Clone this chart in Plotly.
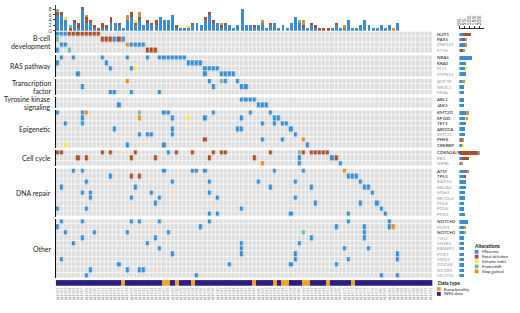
import numpy as np
import plotly.graph_objects as go

W, H = 520, 313
N_SAMPLES = 92

GROUP_NAMES = [["B-cell", "development"], ["RAS pathway"], ["Transcription", "factor"],
               ["Tyrosine kinase", "signaling"], ["Epigenetic"], ["Cell cycle"], ["DNA repair"], ["Other"]]
GROUP_GENES = [
    ["IKZF1", "PAX5", "ZNF521", "ETV6"],
    ["NRAS", "KRAS", "FLT3", "PTPN11"],
    ["ATF7IP", "NR3C1", "MGA"],
    ["ABL1", "JAK3"],
    ["KMT2D", "EP300", "TET2", "ARID1A", "KMT2C", "PHF6", "CREBBP"],
    ["CDKN2A/B", "RB1", "NIPBL"],
    ["ATM", "TP53", "RAD50", "BRCA2", "MSH2", "RECQL4", "POLE", "POLK", "PMS1"],
    ["NOTCH2", "PCM1", "NOTCH1", "TSC2", "SH2B3", "RANBP2", "PCNT", "MKX3", "DOCK8", "NCOR2", "MLLT10"],
]
HIGHLIGHTED = ["IKZF1", "PAX5", "NRAS", "KRAS", "ABL1", "JAK3", "KMT2D", "EP300", "TET2",
               "ARID1A", "PHF6", "CREBBP", "CDKN2A/B", "ATM", "TP53", "NOTCH2", "NOTCH1"]
SAMPLE_IDS = [f"ALL-{i + 1:03d}" for i in range(N_SAMPLES)]

# sample index lists per gene, one dict per alteration type
MISSENSE = {
    "IKZF1": [0, 1, 2], "PAX5": [14, 16], "ZNF521": [1, 2, 18, 19, 20, 21], "ETV6": [0],
    "NRAS": [1, 4, 11, 17, 22, 25, 26, 27, 28, 29, 30, 31], "KRAS": [0, 12, 32, 33, 34, 35],
    "FLT3": [13, 18, 36, 37, 38, 39], "PTPN11": [5, 36, 40, 41, 42, 43],
    "ATF7IP": [37, 41, 44], "NR3C1": [6, 38, 45, 46], "MGA": [13, 14, 18, 25],
    "ABL1": [45, 46, 47, 48], "JAK3": [15, 49, 50, 51],
    "KMT2D": [0, 6, 26, 27, 38, 47, 52], "EP300": [6, 28, 36, 45, 53, 54],
    "TET2": [2, 6, 50, 53, 55, 56], "ARID1A": [14, 28, 44, 45, 57],
    "KMT2C": [20, 22, 23, 28, 58], "PHF6": [50, 55], "CREBBP": [17, 26, 61],
    "CDKN2A/B": [27], "RB1": [59, 67], "NIPBL": [59, 69],
    "ATM": [4, 6, 26, 33, 34, 36, 53, 60], "TP53": [13, 71, 72, 73],
    "RAD50": [7, 28, 37, 49, 58, 74], "BRCA2": [1, 19, 52, 62, 75, 76],
    "MSH2": [6, 8, 23, 37, 77], "RECQL4": [8, 18, 25, 39, 58], "POLE": [24, 63, 74, 78],
    "POLK": [0, 7, 45, 79], "PMS1": [37, 39, 57, 71, 80],
    "NOTCH2": [1, 6, 18, 20, 25, 37, 71, 81], "PCM1": [0, 35, 68, 75, 81],
    "NOTCH1": [2, 9, 17, 27, 75], "TSC2": [6, 24, 62, 75], "SH2B3": [4, 22, 45, 59],
    "RANBP2": [25, 45, 70, 76], "PCNT": [28, 45, 58, 83], "MKX3": [1, 58, 71, 83],
    "DOCK8": [15, 42, 57, 68], "NCOR2": [8, 17, 20, 21], "MLLT10": [7, 34, 79, 83],
}
FOCAL_DELETION = {
    "IKZF1": [3, 4, 5, 6, 7, 8, 9, 10], "PAX5": [11, 12, 13, 15], "ETV6": [22, 23, 24],
    "PHF6": [36],
    "CDKN2A/B": [0, 1, 11, 13, 19, 29, 33, 38, 40, 41, 52, 60, 62, 63, 64, 65, 66],
    "RB1": [5, 7, 18, 24, 37, 48, 68], "TP53": [18, 20],
}
INFRAME_INDEL = {"FLT3": [19], "EP300": [32], "CREBBP": [2]}
FRAMESHIFT = {"PAX5": [0], "ETV6": [3], "ATF7IP": [40], "KMT2D": [20],
              "CDKN2A/B": [59], "NOTCH1": [60]}
STOP_GAINED = {"ZNF521": [17], "ATF7IP": [17], "KMT2D": [7], "EP300": [20], "PHF6": [60],
               "NIPBL": [50], "ATM": [70], "PCM1": [82]}
EUROCLONALITY = [16, 26, 27, 29, 33, 48, 53, 55, 56, 60, 61, 66, 72]

TYPE_NAMES = ["Missense", "Focal deletion", "Inframe indel", "Frameshift", "Stop gained"]
TYPE_DATA = [MISSENSE, FOCAL_DELETION, INFRAME_INDEL, FRAMESHIFT, STOP_GAINED]
TYPE_COLORS = ["#3a8dd0", "#a8502c", "#f2e64c", "#74b79c", "#ef8a22"]
EMPTY = "#dedede"
NAVY = "#2c1d82"
ORANGE = "#f3a024"

# ---------------------------------------------------------------- matrix
all_genes = [g for grp in GROUP_GENES for g in grp]
mat = {g: np.zeros(N_SAMPLES, dtype=int) for g in all_genes}
for code, d in enumerate(TYPE_DATA, start=1):
    for g, cols in d.items():
        mat[g][cols] = code

def px(x):
    return x / W

def py(y):
    return 1 - y / H

fig = go.Figure()
layout = dict(width=W, height=H, margin=dict(l=0, r=0, t=0, b=0),
              paper_bgcolor="white", plot_bgcolor="white", showlegend=False,
              barmode="stack", font=dict(family="Lato", color="#222"))

GRID_L, GRID_R = 53, 432
xdom = [px(GRID_L), px(GRID_R)]
xr = [-0.5, N_SAMPLES - 0.5]
layout["xaxis"] = dict(domain=xdom, range=xr, visible=False, anchor="y9")
layout["xaxis2"] = dict(domain=[px(459), px(484)], range=[0, 25], side="top",
                        anchor="free", position=py(28.5), tickvals=[0, 5, 10, 15, 20],
                        ticktext=["0%", "5%", "10%", "15%", "20%"], tickangle=-90,
                        ticks="outside", ticklen=2, tickwidth=0.7, tickcolor="#333",
                        showline=True, linecolor="#333", linewidth=0.7,
                        showgrid=False, zeroline=False,
                        tickfont=dict(size=5, color="#333"))

dscale = []
cols_all = [EMPTY] + TYPE_COLORS
for i, c in enumerate(cols_all):
    lo = max(0, (i - 0.5) / 5)
    hi = min(1, (i + 0.5) / 5)
    dscale += [[lo, c], [hi, c]]

TOP, PITCH, GAP = 31.8, 5.44, 2.2
LINE_H = 7.8
y0 = TOP
for k, genes in enumerate(GROUP_GENES, start=1):
    n = len(genes)
    y1 = y0 + n * PITCH
    yname = "yaxis" if k == 1 else f"yaxis{k}"
    yref = "y" if k == 1 else f"y{k}"
    layout[yname] = dict(domain=[py(y1), py(y0)], range=[n - 0.5, -0.5], anchor="x",
                         showline=True, linecolor="#111", linewidth=1.3,
                         showticklabels=False, ticks="", showgrid=False, zeroline=False)
    z = np.array([mat[g] for g in genes])
    fig.add_trace(go.Heatmap(z=z, x=list(range(N_SAMPLES)), y=list(range(n)),
                             colorscale=dscale, zmin=0, zmax=5, showscale=False,
                             xgap=0.7, ygap=0.7, xaxis="x", yaxis=yref, hoverinfo="skip"))
    # gene frequency bars
    for code, (tn, tc) in enumerate(zip(TYPE_NAMES, TYPE_COLORS), start=1):
        pct = [float(np.sum(mat[g] == code)) / N_SAMPLES * 100 for g in genes]
        fig.add_trace(go.Bar(x=pct, y=list(range(n)), orientation="h", marker_color=tc,
                             marker_line_width=0, width=0.62, xaxis="x2", yaxis=yref,
                             hoverinfo="skip"))
    # gene labels
    for i, g in enumerate(genes):
        fig.add_annotation(x=px(435), xref="paper", y=i, yref=yref, text=g,
                           showarrow=False, xanchor="left", yanchor="middle",
                           font=dict(size=4.5, color="#111" if g in HIGHLIGHTED else "#9a9a9a"))
    # group label, one annotation per line
    lines = GROUP_NAMES[k - 1]
    yc = (y0 + y1) / 2
    for j, line in enumerate(lines):
        ly = yc + (j - (len(lines) - 1) / 2) * LINE_H
        fig.add_annotation(x=px(50.5), xref="paper", y=py(ly), yref="paper",
                           text=line, showarrow=False, xanchor="right",
                           yanchor="middle", font=dict(size=6.9, color="#222"))
    y0 = y1 + GAP

# top mutation-count bars
layout["yaxis9"] = dict(domain=[py(31), py(5)], range=[0, 26 / 2.71], anchor="x",
                        tickvals=[0, 2, 4, 6, 8], ticks="outside", ticklen=2,
                        tickwidth=0.7, tickcolor="#444", showline=True, linecolor="#444",
                        linewidth=0.7, showgrid=False, zeroline=False,
                        tickfont=dict(size=5.5, color="#444"))
for code, (tn, tc) in enumerate(zip(TYPE_NAMES, TYPE_COLORS), start=1):
    counts = [int(sum(mat[g][c] == code for g in all_genes)) for c in range(N_SAMPLES)]
    fig.add_trace(go.Bar(x=list(range(N_SAMPLES)), y=counts, marker_color=tc,
                         marker_line_width=0, width=0.72, xaxis="x", yaxis="y9",
                         hoverinfo="skip"))

# data type strip with sample labels
dtype = np.array([[1 if c in EUROCLONALITY else 0 for c in range(N_SAMPLES)]])
layout["xaxis3"] = dict(domain=xdom, range=xr, anchor="y10", showticklabels=True,
                        tickvals=list(range(N_SAMPLES)), ticktext=SAMPLE_IDS, tickangle=-90,
                        tickfont=dict(size=3.4, color="#8a8a8a"), ticks="",
                        showgrid=False, zeroline=False)
layout["yaxis10"] = dict(domain=[py(288.6), py(282.8)], range=[-0.5, 0.5], anchor="x3",
                         visible=False)
fig.add_trace(go.Heatmap(z=dtype, x=list(range(N_SAMPLES)), y=[0],
                         colorscale=[[0, NAVY], [0.5, NAVY], [0.5, ORANGE], [1, ORANGE]],
                         zmin=0, zmax=1, showscale=False, xaxis="x3", yaxis="y10",
                         hoverinfo="skip"))

# legends
shapes = []
fig.add_annotation(x=px(471.5), y=py(248.3), xref="paper", yref="paper", text="<b>Alterations</b>",
                   showarrow=False, xanchor="left", yanchor="middle", font=dict(size=5, color="#111"))
for i, (tn, tc) in enumerate(zip(TYPE_NAMES, TYPE_COLORS)):
    yc = 254.2 + i * 4.95
    shapes.append(dict(type="rect", xref="paper", yref="paper", x0=px(474.5), x1=px(478.3),
                       y0=py(yc + 1.9), y1=py(yc - 1.9), fillcolor=tc, line_width=0))
    fig.add_annotation(x=px(479.5), y=py(yc), xref="paper", yref="paper", text=tn,
                       showarrow=False, xanchor="left", yanchor="middle",
                       font=dict(size=4.2, color="#222"))
fig.add_annotation(x=px(436), y=py(285.8), xref="paper", yref="paper", text="<b>Data type</b>",
                   showarrow=False, xanchor="left", yanchor="middle", font=dict(size=5, color="#111"))
for i, (tn, tc) in enumerate([("Euroclonality", ORANGE), ("WES data", NAVY)]):
    yc = 291.8 + i * 5
    shapes.append(dict(type="rect", xref="paper", yref="paper", x0=px(436.5), x1=px(440.3),
                       y0=py(yc + 1.9), y1=py(yc - 1.9), fillcolor=tc, line_width=0))
    fig.add_annotation(x=px(441.8), y=py(yc), xref="paper", yref="paper", text=tn,
                       showarrow=False, xanchor="left", yanchor="middle",
                       font=dict(size=4.4, color="#222"))
layout["shapes"] = shapes

fig.update_layout(**layout)
fig.write_html("out.html", config={"displayModeBar": False},
               post_script="document.body.style.margin='0';")
